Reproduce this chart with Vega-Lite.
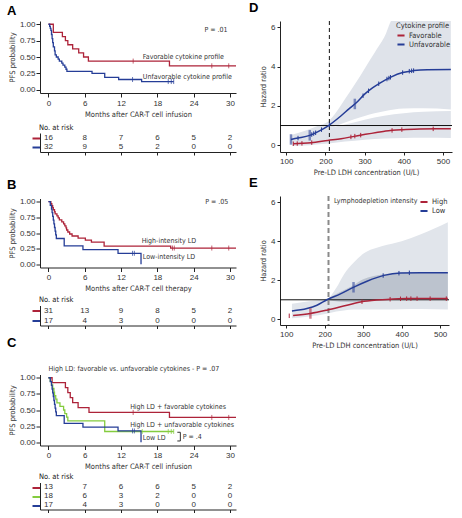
{
"$schema": "https://vega.github.io/schema/vega-lite/v6.json",
"padding": {"left": 7, "top": 1, "right": 0, "bottom": 0},
"background": "white",
"spacing": 10,
"resolve": {"scale": {"color": "independent", "stroke": "independent", "size": "independent", "opacity": "independent", "strokeWidth": "independent"}, "legend": {"color": "independent"}},
"datasets": {
"km": [
{"p":"A","g":"Favorable","t":0,"s":1},{"p":"A","g":"Favorable","t":0.8,"s":0.875},{"p":"A","g":"Favorable","t":2.3,"s":0.8125},{"p":"A","g":"Favorable","t":2.8,"s":0.75},{"p":"A","g":"Favorable","t":3.2,"s":0.6875},{"p":"A","g":"Favorable","t":4.0,"s":0.625},{"p":"A","g":"Favorable","t":5.0,"s":0.5625},{"p":"A","g":"Favorable","t":5.8,"s":0.5},{"p":"A","g":"Favorable","t":6.6,"s":0.4375},{"p":"A","g":"Favorable","t":20.0,"s":0.365},{"p":"A","g":"Favorable","t":31,"s":0.365},
{"p":"A","g":"Unfavorable","t":0,"s":1},{"p":"A","g":"Unfavorable","t":0.2,"s":0.969},{"p":"A","g":"Unfavorable","t":0.3,"s":0.938},{"p":"A","g":"Unfavorable","t":0.4,"s":0.906},{"p":"A","g":"Unfavorable","t":0.5,"s":0.844},{"p":"A","g":"Unfavorable","t":0.6,"s":0.781},{"p":"A","g":"Unfavorable","t":0.7,"s":0.719},{"p":"A","g":"Unfavorable","t":0.8,"s":0.656},{"p":"A","g":"Unfavorable","t":1.0,"s":0.594},{"p":"A","g":"Unfavorable","t":1.1,"s":0.531},{"p":"A","g":"Unfavorable","t":1.3,"s":0.5},{"p":"A","g":"Unfavorable","t":1.6,"s":0.469},{"p":"A","g":"Unfavorable","t":1.8,"s":0.438},{"p":"A","g":"Unfavorable","t":2.2,"s":0.406},{"p":"A","g":"Unfavorable","t":2.4,"s":0.375},{"p":"A","g":"Unfavorable","t":2.7,"s":0.344},{"p":"A","g":"Unfavorable","t":2.9,"s":0.313},{"p":"A","g":"Unfavorable","t":3.05,"s":0.281},{"p":"A","g":"Unfavorable","t":7.2,"s":0.25},{"p":"A","g":"Unfavorable","t":9.3,"s":0.188},{"p":"A","g":"Unfavorable","t":11.6,"s":0.156},{"p":"A","g":"Unfavorable","t":15.4,"s":0.125},{"p":"A","g":"Unfavorable","t":20.7,"s":0.125},
{"p":"B","g":"High","t":0,"s":1},{"p":"B","g":"High","t":0.4,"s":0.968},{"p":"B","g":"High","t":0.55,"s":0.935},{"p":"B","g":"High","t":0.7,"s":0.903},{"p":"B","g":"High","t":0.8,"s":0.871},{"p":"B","g":"High","t":1.0,"s":0.839},{"p":"B","g":"High","t":1.1,"s":0.806},{"p":"B","g":"High","t":1.4,"s":0.774},{"p":"B","g":"High","t":1.6,"s":0.742},{"p":"B","g":"High","t":1.8,"s":0.71},{"p":"B","g":"High","t":2.2,"s":0.677},{"p":"B","g":"High","t":2.5,"s":0.645},{"p":"B","g":"High","t":2.7,"s":0.613},{"p":"B","g":"High","t":2.9,"s":0.581},{"p":"B","g":"High","t":3.0,"s":0.548},{"p":"B","g":"High","t":3.2,"s":0.516},{"p":"B","g":"High","t":3.5,"s":0.484},{"p":"B","g":"High","t":3.9,"s":0.452},{"p":"B","g":"High","t":4.9,"s":0.419},{"p":"B","g":"High","t":6.1,"s":0.387},{"p":"B","g":"High","t":7.1,"s":0.355},{"p":"B","g":"High","t":9.2,"s":0.29},{"p":"B","g":"High","t":20.2,"s":0.26},{"p":"B","g":"High","t":31,"s":0.26},
{"p":"B","g":"Low","t":0,"s":1},{"p":"B","g":"Low","t":0.3,"s":0.941},{"p":"B","g":"Low","t":0.5,"s":0.882},{"p":"B","g":"Low","t":0.6,"s":0.824},{"p":"B","g":"Low","t":0.7,"s":0.765},{"p":"B","g":"Low","t":0.8,"s":0.706},{"p":"B","g":"Low","t":0.9,"s":0.647},{"p":"B","g":"Low","t":1.0,"s":0.588},{"p":"B","g":"Low","t":1.1,"s":0.529},{"p":"B","g":"Low","t":1.2,"s":0.471},{"p":"B","g":"Low","t":1.3,"s":0.412},{"p":"B","g":"Low","t":2.6,"s":0.294},{"p":"B","g":"Low","t":5.7,"s":0.235},{"p":"B","g":"Low","t":11.5,"s":0.176},{"p":"B","g":"Low","t":15.3,"s":0},
{"p":"C","g":"HighFav","t":0,"s":1},{"p":"C","g":"HighFav","t":0.6,"s":0.923},{"p":"C","g":"HighFav","t":2.8,"s":0.846},{"p":"C","g":"HighFav","t":3.2,"s":0.769},{"p":"C","g":"HighFav","t":3.6,"s":0.692},{"p":"C","g":"HighFav","t":4.0,"s":0.615},{"p":"C","g":"HighFav","t":4.9,"s":0.538},{"p":"C","g":"HighFav","t":6.7,"s":0.462},{"p":"C","g":"HighFav","t":20.0,"s":0.385},{"p":"C","g":"HighFav","t":31,"s":0.385},
{"p":"C","g":"HighUnfav","t":0,"s":1},{"p":"C","g":"HighUnfav","t":0.3,"s":0.944},{"p":"C","g":"HighUnfav","t":0.5,"s":0.889},{"p":"C","g":"HighUnfav","t":0.7,"s":0.833},{"p":"C","g":"HighUnfav","t":0.9,"s":0.778},{"p":"C","g":"HighUnfav","t":1.0,"s":0.722},{"p":"C","g":"HighUnfav","t":1.2,"s":0.667},{"p":"C","g":"HighUnfav","t":1.4,"s":0.611},{"p":"C","g":"HighUnfav","t":1.9,"s":0.556},{"p":"C","g":"HighUnfav","t":2.5,"s":0.5},{"p":"C","g":"HighUnfav","t":2.7,"s":0.444},{"p":"C","g":"HighUnfav","t":3.0,"s":0.389},{"p":"C","g":"HighUnfav","t":3.2,"s":0.333},{"p":"C","g":"HighUnfav","t":9.3,"s":0.167},{"p":"C","g":"HighUnfav","t":20.7,"s":0.167},
{"p":"C","g":"Low","t":0,"s":1},{"p":"C","g":"Low","t":0.3,"s":0.941},{"p":"C","g":"Low","t":0.5,"s":0.882},{"p":"C","g":"Low","t":0.6,"s":0.824},{"p":"C","g":"Low","t":0.7,"s":0.765},{"p":"C","g":"Low","t":0.8,"s":0.706},{"p":"C","g":"Low","t":0.9,"s":0.647},{"p":"C","g":"Low","t":1.0,"s":0.588},{"p":"C","g":"Low","t":1.1,"s":0.529},{"p":"C","g":"Low","t":1.2,"s":0.471},{"p":"C","g":"Low","t":1.3,"s":0.412},{"p":"C","g":"Low","t":2.6,"s":0.294},{"p":"C","g":"Low","t":5.7,"s":0.235},{"p":"C","g":"Low","t":11.5,"s":0.176},{"p":"C","g":"Low","t":15.3,"s":0}
],
"cens": [
{"p":"A","g":"Favorable","t":14,"s":0.4375},{"p":"A","g":"Favorable","t":27,"s":0.365},{"p":"A","g":"Favorable","t":29.8,"s":0.365},
{"p":"A","g":"Unfavorable","t":13.9,"s":0.156},{"p":"A","g":"Unfavorable","t":19.8,"s":0.125},{"p":"A","g":"Unfavorable","t":20.3,"s":0.125},{"p":"A","g":"Unfavorable","t":20.7,"s":0.125},
{"p":"B","g":"High","t":20.5,"s":0.26},{"p":"B","g":"High","t":20.8,"s":0.26},{"p":"B","g":"High","t":27,"s":0.26},{"p":"B","g":"High","t":29.8,"s":0.26},
{"p":"B","g":"Low","t":13.9,"s":0.176},{"p":"B","g":"Low","t":14.2,"s":0.176},
{"p":"C","g":"HighFav","t":14,"s":0.462},{"p":"C","g":"HighFav","t":27,"s":0.385},{"p":"C","g":"HighFav","t":29.8,"s":0.385},
{"p":"C","g":"HighUnfav","t":15.5,"s":0.167},{"p":"C","g":"HighUnfav","t":19.8,"s":0.167},{"p":"C","g":"HighUnfav","t":20.3,"s":0.167},{"p":"C","g":"HighUnfav","t":20.7,"s":0.167},
{"p":"C","g":"Low","t":13.9,"s":0.176},{"p":"C","g":"Low","t":14.2,"s":0.176}
],
"lab": [
{"p":"A","t":15.6,"s":0.5,"txt":"Favorable cytokine profile"},{"p":"A","t":15.6,"s":0.19,"txt":"Unfavorable cytokine profile"},{"p":"A","t":25.8,"s":0.92,"txt":"P = .01"},
{"p":"B","t":15.4,"s":0.375,"txt":"High-intensity LD"},{"p":"B","t":15.6,"s":0.11,"txt":"Low-intensity LD"},{"p":"B","t":25.9,"s":0.99,"txt":"P = .05"},
{"p":"C","t":0,"s":1.135,"txt":"High LD: favorable vs. unfavorable cytokines - P = .07"},{"p":"C","t":13.5,"s":0.55,"txt":"High LD + favorable cytokines"},{"p":"C","t":13.5,"s":0.27,"txt":"High LD + unfavorable cytokines"},{"p":"C","t":15.6,"s":0.06,"txt":"Low LD"},{"p":"C","t":22.2,"s":0.08,"txt":"P = .4"}
],
"brk": [{"t":21.3,"s":0.155,"i":0},{"t":21.8,"s":0.155,"i":1},{"t":21.8,"s":0.02,"i":2},{"t":21.3,"s":0.02,"i":3}],
"risk": [
{"p":"A","g":"Favorable","t":0,"n":16},{"p":"A","g":"Favorable","t":6,"n":8},{"p":"A","g":"Favorable","t":12,"n":7},{"p":"A","g":"Favorable","t":18,"n":6},{"p":"A","g":"Favorable","t":24,"n":5},{"p":"A","g":"Favorable","t":30,"n":2},
{"p":"A","g":"Unfavorable","t":0,"n":32},{"p":"A","g":"Unfavorable","t":6,"n":9},{"p":"A","g":"Unfavorable","t":12,"n":5},{"p":"A","g":"Unfavorable","t":18,"n":2},{"p":"A","g":"Unfavorable","t":24,"n":0},{"p":"A","g":"Unfavorable","t":30,"n":0},
{"p":"B","g":"High","t":0,"n":31},{"p":"B","g":"High","t":6,"n":13},{"p":"B","g":"High","t":12,"n":9},{"p":"B","g":"High","t":18,"n":8},{"p":"B","g":"High","t":24,"n":5},{"p":"B","g":"High","t":30,"n":2},
{"p":"B","g":"Low","t":0,"n":17},{"p":"B","g":"Low","t":6,"n":4},{"p":"B","g":"Low","t":12,"n":3},{"p":"B","g":"Low","t":18,"n":0},{"p":"B","g":"Low","t":24,"n":0},{"p":"B","g":"Low","t":30,"n":0},
{"p":"C","g":"HighFav","t":0,"n":13},{"p":"C","g":"HighFav","t":6,"n":7},{"p":"C","g":"HighFav","t":12,"n":6},{"p":"C","g":"HighFav","t":18,"n":6},{"p":"C","g":"HighFav","t":24,"n":5},{"p":"C","g":"HighFav","t":30,"n":2},
{"p":"C","g":"HighUnfav","t":0,"n":18},{"p":"C","g":"HighUnfav","t":6,"n":6},{"p":"C","g":"HighUnfav","t":12,"n":3},{"p":"C","g":"HighUnfav","t":18,"n":2},{"p":"C","g":"HighUnfav","t":24,"n":0},{"p":"C","g":"HighUnfav","t":30,"n":0},
{"p":"C","g":"Low","t":0,"n":17},{"p":"C","g":"Low","t":6,"n":4},{"p":"C","g":"Low","t":12,"n":3},{"p":"C","g":"Low","t":18,"n":0},{"p":"C","g":"Low","t":24,"n":0},{"p":"C","g":"Low","t":30,"n":0}
],
"hr": [
{"p":"D","g":"Unfavorable","x":112,"y":0.29},{"p":"D","g":"Unfavorable","x":130,"y":0.36},{"p":"D","g":"Unfavorable","x":160,"y":0.5},{"p":"D","g":"Unfavorable","x":180,"y":0.68},{"p":"D","g":"Unfavorable","x":208,"y":1.0},{"p":"D","g":"Unfavorable","x":240,"y":1.5},{"p":"D","g":"Unfavorable","x":260,"y":1.85},{"p":"D","g":"Unfavorable","x":278,"y":2.15},{"p":"D","g":"Unfavorable","x":300,"y":2.6},{"p":"D","g":"Unfavorable","x":320,"y":2.92},{"p":"D","g":"Unfavorable","x":340,"y":3.18},{"p":"D","g":"Unfavorable","x":367,"y":3.47},{"p":"D","g":"Unfavorable","x":397,"y":3.7},{"p":"D","g":"Unfavorable","x":425,"y":3.8},{"p":"D","g":"Unfavorable","x":460,"y":3.85},{"p":"D","g":"Unfavorable","x":520,"y":3.86},
{"p":"D","g":"Favorable","x":118,"y":0.07},{"p":"D","g":"Favorable","x":140,"y":0.09},{"p":"D","g":"Favorable","x":163,"y":0.12},{"p":"D","g":"Favorable","x":206,"y":0.24},{"p":"D","g":"Favorable","x":240,"y":0.33},{"p":"D","g":"Favorable","x":276,"y":0.46},{"p":"D","g":"Favorable","x":302,"y":0.55},{"p":"D","g":"Favorable","x":330,"y":0.64},{"p":"D","g":"Favorable","x":354,"y":0.72},{"p":"D","g":"Favorable","x":397,"y":0.79},{"p":"D","g":"Favorable","x":440,"y":0.82},{"p":"D","g":"Favorable","x":484,"y":0.83},{"p":"D","g":"Favorable","x":520,"y":0.83},
{"p":"E","g":"Low","x":115,"y":0.43},{"p":"E","g":"Low","x":154,"y":0.55},{"p":"E","g":"Low","x":180,"y":0.72},{"p":"E","g":"Low","x":206,"y":1.0},{"p":"E","g":"Low","x":241,"y":1.3},{"p":"E","g":"Low","x":276,"y":1.65},{"p":"E","g":"Low","x":310,"y":1.95},{"p":"E","g":"Low","x":354,"y":2.25},{"p":"E","g":"Low","x":397,"y":2.37},{"p":"E","g":"Low","x":450,"y":2.38},{"p":"E","g":"Low","x":520,"y":2.38},
{"p":"E","g":"High","x":118,"y":0.2},{"p":"E","g":"High","x":163,"y":0.3},{"p":"E","g":"High","x":206,"y":0.47},{"p":"E","g":"High","x":258,"y":0.72},{"p":"E","g":"High","x":302,"y":0.92},{"p":"E","g":"High","x":362,"y":1.02},{"p":"E","g":"High","x":414,"y":1.06},{"p":"E","g":"High","x":520,"y":1.06}
],
"hrt": [
{"p":"D","g":"Unfavorable","k":"l","x":112,"y":0.29},{"p":"D","g":"Unfavorable","k":"s","x":130,"y":0.36},{"p":"D","g":"Unfavorable","k":"l","x":160,"y":0.5},{"p":"D","g":"Unfavorable","k":"s","x":165,"y":0.54},{"p":"D","g":"Unfavorable","k":"s","x":170,"y":0.59},{"p":"D","g":"Unfavorable","k":"s","x":175,"y":0.63},{"p":"D","g":"Unfavorable","k":"s","x":190,"y":0.79},{"p":"D","g":"Unfavorable","k":"s","x":210,"y":1.03},{"p":"D","g":"Unfavorable","k":"l","x":275,"y":2.1},{"p":"D","g":"Unfavorable","k":"s","x":296,"y":2.52},{"p":"D","g":"Unfavorable","k":"s","x":310,"y":2.77},{"p":"D","g":"Unfavorable","k":"s","x":336,"y":3.13},{"p":"D","g":"Unfavorable","k":"s","x":357,"y":3.37},{"p":"D","g":"Unfavorable","k":"s","x":362,"y":3.42},{"p":"D","g":"Unfavorable","k":"s","x":366,"y":3.46},{"p":"D","g":"Unfavorable","k":"s","x":397,"y":3.7},{"p":"D","g":"Unfavorable","k":"s","x":414,"y":3.77},{"p":"D","g":"Unfavorable","k":"s","x":420,"y":3.79},{"p":"D","g":"Unfavorable","k":"s","x":425,"y":3.8},
{"p":"D","g":"Favorable","k":"s","x":118,"y":0.07},{"p":"D","g":"Favorable","k":"s","x":128,"y":0.08},{"p":"D","g":"Favorable","k":"s","x":140,"y":0.09},{"p":"D","g":"Favorable","k":"s","x":165,"y":0.13},{"p":"D","g":"Favorable","k":"s","x":265,"y":0.42},{"p":"D","g":"Favorable","k":"s","x":275,"y":0.46},{"p":"D","g":"Favorable","k":"s","x":290,"y":0.51},{"p":"D","g":"Favorable","k":"s","x":370,"y":0.75},{"p":"D","g":"Favorable","k":"s","x":395,"y":0.79},{"p":"D","g":"Favorable","k":"s","x":475,"y":0.83},
{"p":"E","g":"Low","k":"l","x":275,"y":1.64},{"p":"E","g":"Low","k":"s","x":352,"y":2.24},{"p":"E","g":"Low","k":"s","x":393,"y":2.36},{"p":"E","g":"Low","k":"s","x":420,"y":2.38},
{"p":"E","g":"High","k":"s","x":108,"y":0.18},{"p":"E","g":"High","k":"l","x":163,"y":0.3},{"p":"E","g":"High","k":"s","x":297,"y":0.9},{"p":"E","g":"High","k":"s","x":370,"y":1.03},{"p":"E","g":"High","k":"s","x":397,"y":1.05},{"p":"E","g":"High","k":"s","x":413,"y":1.06},{"p":"E","g":"High","k":"s","x":424,"y":1.06},{"p":"E","g":"High","k":"s","x":440,"y":1.06},{"p":"E","g":"High","k":"s","x":474,"y":1.06},{"p":"E","g":"High","k":"s","x":516,"y":1.06}
],
"band": [
{"p":"D","g":"Unfavorable","x":110,"lo":0.08,"hi":0.5},{"p":"D","g":"Unfavorable","x":150,"lo":0.2,"hi":0.75},{"p":"D","g":"Unfavorable","x":180,"lo":0.45,"hi":0.98},{"p":"D","g":"Unfavorable","x":208,"lo":0.82,"hi":1.22},{"p":"D","g":"Unfavorable","x":230,"lo":1.0,"hi":1.75},{"p":"D","g":"Unfavorable","x":250,"lo":1.15,"hi":2.35},{"p":"D","g":"Unfavorable","x":275,"lo":1.33,"hi":3.1},{"p":"D","g":"Unfavorable","x":300,"lo":1.48,"hi":3.9},{"p":"D","g":"Unfavorable","x":325,"lo":1.62,"hi":4.7},{"p":"D","g":"Unfavorable","x":350,"lo":1.73,"hi":5.5},{"p":"D","g":"Unfavorable","x":375,"lo":1.82,"hi":6.5},{"p":"D","g":"Unfavorable","x":400,"lo":1.87,"hi":6.5},{"p":"D","g":"Unfavorable","x":450,"lo":1.88,"hi":6.5},{"p":"D","g":"Unfavorable","x":520,"lo":1.82,"hi":6.5},
{"p":"D","g":"Favorable","x":115,"lo":-0.05,"hi":0.3},{"p":"D","g":"Favorable","x":160,"lo":0.0,"hi":0.45},{"p":"D","g":"Favorable","x":208,"lo":0.08,"hi":0.85},{"p":"D","g":"Favorable","x":250,"lo":0.18,"hi":1.05},{"p":"D","g":"Favorable","x":300,"lo":0.28,"hi":1.3},{"p":"D","g":"Favorable","x":350,"lo":0.34,"hi":1.5},{"p":"D","g":"Favorable","x":400,"lo":0.37,"hi":1.63},{"p":"D","g":"Favorable","x":450,"lo":0.38,"hi":1.7},{"p":"D","g":"Favorable","x":520,"lo":0.37,"hi":1.74},
{"p":"E","g":"Low","x":115,"lo":0.05,"hi":0.8},{"p":"E","g":"Low","x":160,"lo":0.15,"hi":0.92},{"p":"E","g":"Low","x":208,"lo":0.3,"hi":1.08},{"p":"E","g":"Low","x":230,"lo":0.4,"hi":1.6},{"p":"E","g":"Low","x":250,"lo":0.45,"hi":2.3},{"p":"E","g":"Low","x":275,"lo":0.5,"hi":2.9},{"p":"E","g":"Low","x":300,"lo":0.5,"hi":3.35},{"p":"E","g":"Low","x":350,"lo":0.5,"hi":3.75},{"p":"E","g":"Low","x":400,"lo":0.52,"hi":4.0},{"p":"E","g":"Low","x":450,"lo":0.53,"hi":4.35},{"p":"E","g":"Low","x":520,"lo":0.5,"hi":4.97}
],
"band2": [
{"p":"E","x":208,"lo":1.0,"hi":1.05},{"p":"E","x":240,"lo":0.9,"hi":1.4},{"p":"E","x":275,"lo":0.88,"hi":1.75},{"p":"E","x":300,"lo":0.92,"hi":2.05},{"p":"E","x":350,"lo":1.0,"hi":2.3},{"p":"E","x":400,"lo":1.05,"hi":2.38},{"p":"E","x":520,"lo":1.08,"hi":2.4}
]
},
"hconcat": [
{"spacing": 7.5,
 "resolve": {"scale": {"color": "independent", "stroke": "independent"}},
 "vconcat": [
 {"spacing": 22.5,
  "resolve": {"scale": {"color": "independent", "stroke": "independent"}},
  "vconcat": [
 {"bounds": "flush", "spacing": 40, "resolve": {"scale": {"color": "independent", "stroke": "independent"}},
  "vconcat": [
  {"width": 196, "height": 72,
   "title": {"text": "A", "dx": -33, "offset": 2},
   "encoding": {
     "x": {"field": "t", "type": "quantitative", "scale": {"domain": [-1.4, 31], "nice": false, "zero": false}, "axis": {"values": [0,6,12,18,24,30], "title": "Months after CAR-T cell infusion", "tickSize": 4, "labelPadding": 2, "titlePadding": 3}},
     "y": {"field": "s", "type": "quantitative", "scale": {"domain": [-0.05, 1.05], "nice": false, "zero": false}, "axis": {"values": [0,0.25,0.5,0.75,1], "format": ".2f", "title": "PFS probability", "tickSize": 4, "labelPadding": 1, "titlePadding": 3}}
   },
   "layer": [
    {"data": {"name": "km"}, "transform": [{"filter": "datum.p == 'A'"}], "mark": {"type": "line", "interpolate": "step-after", "strokeWidth": 1.3},
     "encoding": {"color": {"field": "g", "type": "nominal", "scale": {"domain": ["Favorable","Unfavorable"], "range": ["#ad2339","#253d97"]}, "legend": null}}},
    {"data": {"name": "cens"}, "transform": [{"filter": "datum.p == 'A'"}], "mark": {"type": "point", "shape": "M0,-1L0,1", "filled": false, "size": 25, "strokeWidth": 1},
     "encoding": {"stroke": {"field": "g", "type": "nominal", "scale": {"domain": ["Favorable","Unfavorable"], "range": ["#ad2339","#253d97"]}, "legend": null}}},
    {"data": {"name": "lab"}, "transform": [{"filter": "datum.p == 'A'"}], "mark": {"type": "text", "align": "left", "baseline": "middle", "fontSize": 7, "font": "DejaVu Sans Condensed, Lato, sans-serif", "color": "#333"},
     "encoding": {"text": {"field": "txt"}}}
   ]},
  {"width": 196, "height": 19,
   "title": {"text": "No. at risk", "dx": -1, "offset": 2, "fontSize": 7.5, "fontWeight": "normal", "font": "DejaVu Sans Condensed, Lato, sans-serif", "color": "#222"},
   "data": {"name": "risk"}, "transform": [{"filter": "datum.p == 'A'"}],
   "mark": {"type": "text", "fontSize": 8, "font": "Liberation Sans", "color": "#333"},
   "encoding": {
     "x": {"field": "t", "type": "quantitative", "scale": {"domain": [-1.4, 31], "nice": false, "zero": false}, "axis": {"values": [0,6,12,18,24,30], "labels": false, "title": null, "tickSize": 3}},
     "y": {"field": "g", "type": "nominal", "scale": {"type": "point", "domain": ["Favorable","Unfavorable"], "padding": 0.5}, "axis": {"labels": false, "title": null, "tickSize": 8, "tickWidth": 2, "tickColor": {"condition": {"test": "datum.value == 'Favorable'", "value": "#ad2339"}, "value": "#253d97"}}},
     "text": {"field": "n", "type": "quantitative"}
   }}
  ]},
 {"bounds": "flush", "spacing": 38, "resolve": {"scale": {"color": "independent", "stroke": "independent"}},
  "vconcat": [
  {"width": 196, "height": 69,
   "title": {"text": "B", "dx": -33, "offset": 6},
   "encoding": {
     "x": {"field": "t", "type": "quantitative", "scale": {"domain": [-1.4, 31], "nice": false, "zero": false}, "axis": {"values": [0,6,12,18,24,30], "title": "Months after CAR-T cell therapy", "tickSize": 4, "labelPadding": 2, "titlePadding": 3}},
     "y": {"field": "s", "type": "quantitative", "scale": {"domain": [-0.05, 1.05], "nice": false, "zero": false}, "axis": {"values": [0,0.25,0.5,0.75,1], "format": ".2f", "title": "PFS probability", "tickSize": 4, "labelPadding": 1, "titlePadding": 3}}
   },
   "layer": [
    {"data": {"name": "km"}, "transform": [{"filter": "datum.p == 'B'"}], "mark": {"type": "line", "interpolate": "step-after", "strokeWidth": 1.3},
     "encoding": {"color": {"field": "g", "type": "nominal", "scale": {"domain": ["High","Low"], "range": ["#ad2339","#253d97"]}, "legend": null}}},
    {"data": {"name": "cens"}, "transform": [{"filter": "datum.p == 'B'"}], "mark": {"type": "point", "shape": "M0,-1L0,1", "filled": false, "size": 25, "strokeWidth": 1},
     "encoding": {"stroke": {"field": "g", "type": "nominal", "scale": {"domain": ["High","Low"], "range": ["#ad2339","#253d97"]}, "legend": null}}},
    {"data": {"name": "lab"}, "transform": [{"filter": "datum.p == 'B'"}], "mark": {"type": "text", "align": "left", "baseline": "middle", "fontSize": 7, "font": "DejaVu Sans Condensed, Lato, sans-serif", "color": "#333"},
     "encoding": {"text": {"field": "txt"}}}
   ]},
  {"width": 196, "height": 20,
   "title": {"text": "No. at risk", "dx": -1, "offset": 2, "fontSize": 7.5, "fontWeight": "normal", "font": "DejaVu Sans Condensed, Lato, sans-serif", "color": "#222"},
   "data": {"name": "risk"}, "transform": [{"filter": "datum.p == 'B'"}],
   "mark": {"type": "text", "fontSize": 8, "font": "Liberation Sans", "color": "#333"},
   "encoding": {
     "x": {"field": "t", "type": "quantitative", "scale": {"domain": [-1.4, 31], "nice": false, "zero": false}, "axis": {"values": [0,6,12,18,24,30], "labels": false, "title": null, "tickSize": 3}},
     "y": {"field": "g", "type": "nominal", "scale": {"type": "point", "domain": ["High","Low"], "padding": 0.5}, "axis": {"labels": false, "title": null, "tickSize": 8, "tickWidth": 2, "tickColor": {"condition": {"test": "datum.value == 'High'", "value": "#ad2339"}, "value": "#253d97"}}},
     "text": {"field": "n", "type": "quantitative"}
   }}
  ]}
  ]},
 {"bounds": "flush", "spacing": 37, "resolve": {"scale": {"color": "independent", "stroke": "independent"}},
  "vconcat": [
  {"width": 196, "height": 71,
   "title": {"text": "C", "dx": -33, "offset": 15.5},
   "encoding": {
     "x": {"field": "t", "type": "quantitative", "scale": {"domain": [-1.4, 31], "nice": false, "zero": false}, "axis": {"values": [0,6,12,18,24,30], "title": "Months after CAR-T cell infusion", "tickSize": 4, "labelPadding": 2, "titlePadding": 3}},
     "y": {"field": "s", "type": "quantitative", "scale": {"domain": [-0.05, 1.05], "nice": false, "zero": false}, "axis": {"values": [0,0.25,0.5,0.75,1], "format": ".2f", "title": "PFS probability", "tickSize": 4, "labelPadding": 1, "titlePadding": 3}}
   },
   "layer": [
    {"data": {"name": "km"}, "transform": [{"filter": "datum.p == 'C'"}], "mark": {"type": "line", "interpolate": "step-after", "strokeWidth": 1.3},
     "encoding": {"color": {"field": "g", "type": "nominal", "scale": {"domain": ["HighFav","HighUnfav","Low"], "range": ["#ad2339","#84cc3e","#253d97"]}, "legend": null}}},
    {"data": {"name": "cens"}, "transform": [{"filter": "datum.p == 'C'"}], "mark": {"type": "point", "shape": "M0,-1L0,1", "filled": false, "size": 25, "strokeWidth": 1},
     "encoding": {"stroke": {"field": "g", "type": "nominal", "scale": {"domain": ["HighFav","HighUnfav","Low"], "range": ["#ad2339","#84cc3e","#253d97"]}, "legend": null}}},
    {"data": {"name": "brk"}, "mark": {"type": "line", "color": "#333", "strokeWidth": 1}, "encoding": {"order": {"field": "i", "type": "quantitative"}}},
    {"data": {"name": "lab"}, "transform": [{"filter": "datum.p == 'C'"}], "mark": {"type": "text", "align": "left", "baseline": "middle", "fontSize": 7, "font": "DejaVu Sans Condensed, Lato, sans-serif", "color": "#333"},
     "encoding": {"text": {"field": "txt"}}}
   ]},
  {"width": 196, "height": 27,
   "title": {"text": "No. at risk", "dx": -1, "offset": 2, "fontSize": 7.5, "fontWeight": "normal", "font": "DejaVu Sans Condensed, Lato, sans-serif", "color": "#222"},
   "data": {"name": "risk"}, "transform": [{"filter": "datum.p == 'C'"}],
   "mark": {"type": "text", "fontSize": 8, "font": "Liberation Sans", "color": "#333"},
   "encoding": {
     "x": {"field": "t", "type": "quantitative", "scale": {"domain": [-1.4, 31], "nice": false, "zero": false}, "axis": {"values": [0,6,12,18,24,30], "labels": false, "title": null, "tickSize": 3}},
     "y": {"field": "g", "type": "nominal", "scale": {"type": "point", "domain": ["HighFav","HighUnfav","Low"], "padding": 0.5}, "axis": {"labels": false, "title": null, "tickSize": 8, "tickWidth": 2, "tickColor": {"condition": [{"test": "datum.value == 'HighFav'", "value": "#ad2339"}, {"test": "datum.value == 'HighUnfav'", "value": "#84cc3e"}], "value": "#253d97"}}},
     "text": {"field": "n", "type": "quantitative"}
   }}
  ]}
 ]},
{"bounds": "flush", "spacing": 44,
 "resolve": {"scale": {"color": "independent", "stroke": "independent", "size": "independent", "opacity": "independent", "strokeWidth": "independent"}, "legend": {"color": "independent"}},
 "vconcat": [
 {"width": 172, "height": 131,
  "title": {"text": "D", "dx": -31, "offset": 6},
  "layer": [
   {"data": {"name": "band"}, "transform": [{"filter": "datum.p == 'D'"}], "mark": {"type": "area", "fill": "#dfe3ea", "clip": true, "interpolate": "monotone"},
    "encoding": {"x": {"field": "x", "type": "quantitative", "scale": {"domain": [84, 523], "nice": false, "zero": false}, "axis": {"values": [100,200,300,400,500], "title": "Pre-LD LDH concentration (U/L)", "tickSize": 3, "labelPadding": 2, "titlePadding": 3}},
     "y": {"field": "lo", "type": "quantitative", "scale": {"domain": [-0.35, 6.33], "nice": false, "zero": false}, "axis": {"values": [0,2,4,6], "title": "Hazard ratio", "tickSize": 3, "labelPadding": 2, "titlePadding": 3}},
     "y2": {"field": "hi"}, "detail": {"field": "g"}}},
   {"data": {"values": [{}]}, "mark": {"type": "rule", "color": "#111", "strokeWidth": 1}, "encoding": {"y": {"datum": 1, "type": "quantitative"}}},
   {"data": {"values": [{}]}, "mark": {"type": "rule", "color": "#111", "strokeWidth": 1, "strokeDash": [4, 3]}, "encoding": {"x": {"datum": 210, "type": "quantitative"}}},
   {"data": {"name": "hr"}, "transform": [{"filter": "datum.p == 'D'"}], "mark": {"type": "line", "interpolate": "monotone", "strokeWidth": 1.5},
    "encoding": {"x": {"field": "x", "type": "quantitative"}, "y": {"field": "y", "type": "quantitative"},
     "color": {"field": "g", "type": "nominal", "scale": {"domain": ["Favorable","Unfavorable"], "range": ["#ad2339","#253d97"]},
      "legend": {"title": "Cytokine profile", "orient": "top-right", "offset": 1, "padding": 0, "symbolType": "stroke", "symbolStrokeWidth": 2, "symbolSize": 50, "labelFontSize": 7.5, "titleFontSize": 7.5, "titleFontWeight": "normal", "titleFont": "DejaVu Sans Condensed, Lato, sans-serif", "labelFont": "DejaVu Sans Condensed, Lato, sans-serif", "rowPadding": 0, "titlePadding": 1, "labelOffset": 3}}}},
   {"data": {"name": "hrt"}, "transform": [{"filter": "datum.p == 'D'"}], "mark": {"type": "point", "shape": "M0,-1L0,1", "filled": false},
    "encoding": {"x": {"field": "x", "type": "quantitative"}, "y": {"field": "y", "type": "quantitative"},
     "stroke": {"field": "g", "type": "nominal", "scale": {"domain": ["Favorable","Unfavorable"], "range": ["#ad2339","#253d97"]}, "legend": null},
     "size": {"field": "k", "type": "nominal", "scale": {"domain": ["s","l"], "range": [20, 110]}, "legend": null},
     "strokeWidth": {"field": "k", "type": "nominal", "scale": {"domain": ["s","l"], "range": [1, 2.5]}, "legend": null},
     "opacity": {"field": "k", "type": "nominal", "scale": {"domain": ["s","l"], "range": [1, 0.55]}, "legend": null}}}
  ]},
 {"width": 169, "height": 129,
  "title": {"text": "E", "dx": -31, "offset": 5},
  "layer": [
   {"data": {"name": "band"}, "transform": [{"filter": "datum.p == 'E'"}], "mark": {"type": "area", "fill": "#e1e5eb", "clip": true, "interpolate": "monotone"},
    "encoding": {"x": {"field": "x", "type": "quantitative", "scale": {"domain": [84, 523], "nice": false, "zero": false}, "axis": {"values": [100,200,300,400,500], "title": "Pre-LD LDH concentration (U/L)", "tickSize": 3, "labelPadding": 2, "titlePadding": 3}},
     "y": {"field": "lo", "type": "quantitative", "scale": {"domain": [-0.29, 6.31], "nice": false, "zero": false}, "axis": {"values": [0,2,4,6], "title": "Hazard ratio", "tickSize": 3, "labelPadding": 2, "titlePadding": 3}},
     "y2": {"field": "hi"}}},
   {"data": {"name": "band2"}, "mark": {"type": "area", "fill": "#bcc3ce", "clip": true, "interpolate": "monotone"},
    "encoding": {"x": {"field": "x", "type": "quantitative"}, "y": {"field": "lo", "type": "quantitative"}, "y2": {"field": "hi"}}},
   {"data": {"values": [{}]}, "mark": {"type": "rule", "color": "#111", "strokeWidth": 1}, "encoding": {"y": {"datum": 1, "type": "quantitative"}}},
   {"data": {"values": [{}]}, "mark": {"type": "rule", "color": "#8a8a8a", "strokeWidth": 2, "strokeDash": [5, 3]}, "encoding": {"x": {"datum": 210, "type": "quantitative"}}},
   {"data": {"name": "hr"}, "transform": [{"filter": "datum.p == 'E'"}], "mark": {"type": "line", "interpolate": "monotone", "strokeWidth": 1.5},
    "encoding": {"x": {"field": "x", "type": "quantitative"}, "y": {"field": "y", "type": "quantitative"},
     "color": {"field": "g", "type": "nominal", "scale": {"domain": ["High","Low"], "range": ["#ad2339","#253d97"]},
      "legend": {"title": "Lymphodepletion intensity", "orient": "top-right", "titleOrient": "left", "titleAnchor": "start", "offset": 1, "padding": 0, "symbolType": "stroke", "symbolStrokeWidth": 2, "symbolSize": 50, "labelFontSize": 7.5, "titleFontSize": 7, "titleFontWeight": "normal", "titleFont": "DejaVu Sans Condensed, Lato, sans-serif", "labelFont": "DejaVu Sans Condensed, Lato, sans-serif", "rowPadding": 0, "titlePadding": 1, "labelOffset": 3}}}},
   {"data": {"name": "hrt"}, "transform": [{"filter": "datum.p == 'E'"}], "mark": {"type": "point", "shape": "M0,-1L0,1", "filled": false},
    "encoding": {"x": {"field": "x", "type": "quantitative"}, "y": {"field": "y", "type": "quantitative"},
     "stroke": {"field": "g", "type": "nominal", "scale": {"domain": ["High","Low"], "range": ["#ad2339","#253d97"]}, "legend": null},
     "size": {"field": "k", "type": "nominal", "scale": {"domain": ["s","l"], "range": [20, 110]}, "legend": null},
     "strokeWidth": {"field": "k", "type": "nominal", "scale": {"domain": ["s","l"], "range": [1, 2.5]}, "legend": null},
     "opacity": {"field": "k", "type": "nominal", "scale": {"domain": ["s","l"], "range": [1, 0.55]}, "legend": null}}}
  ]}
 ]}
],
"config": {
 "view": {"stroke": null},
 "font": "Liberation Sans",
 "title": {"font": "Liberation Sans", "fontWeight": "bold", "fontSize": 13, "anchor": "start", "frame": "group", "color": "#000"},
 "axis": {"grid": false, "domainColor": "#222", "tickColor": "#222", "labelColor": "#333", "titleColor": "#333", "labelFont": "Liberation Sans", "labelFontSize": 8, "titleFont": "DejaVu Sans Condensed, Lato, sans-serif", "titleFontSize": 7.5, "titleFontWeight": "normal"},
 "legend": {"labelColor": "#333", "titleColor": "#333"}
}
}
